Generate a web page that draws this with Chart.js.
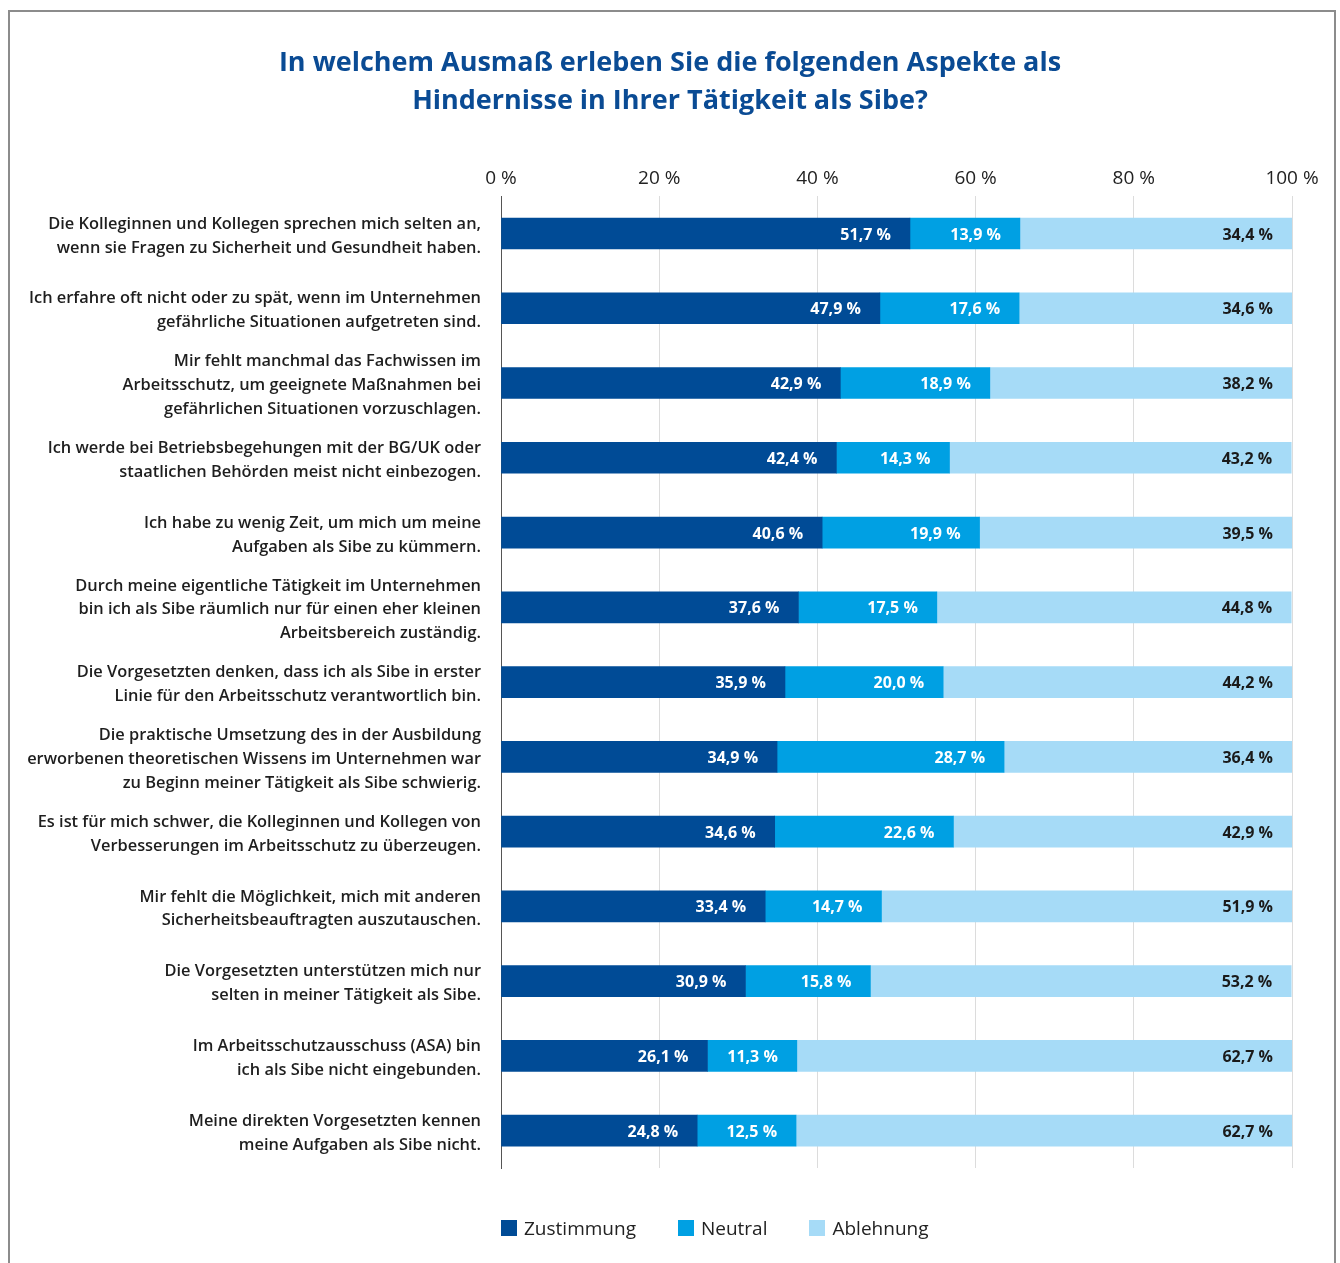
<!DOCTYPE html>
<html>
<head>
<meta charset="utf-8">
<script src="https://cdn.jsdelivr.net/npm/chart.js@4.4.1/dist/chart.umd.min.js"></script>
<style>
  html, body { margin: 0; padding: 0; background: #fff; }
  #wrap { position: relative; width: 1340px; height: 1263px; overflow: hidden; }
  canvas { position: absolute; left: 0; top: 0; }
  #legend { position: absolute; left: 501px; top: 1215px; display: flex; align-items: center;
            font-family: "Open Sans", sans-serif; font-size: 19px; color: #222; }
  #legend .item { display: flex; align-items: center; margin-right: 42px; }
  #legend .box { width: 16px; height: 16px; margin-right: 7px; }
</style>
</head>
<body>
<div id="wrap">
  <canvas id="c" width="1340" height="1263"></canvas>
  <div id="legend"></div>
</div>
<script>
const titleLines = [
  "In welchem Ausmaß erleben Sie die folgenden Aspekte als",
  "Hindernisse in Ihrer Tätigkeit als Sibe?"
];
const categories = [
  ["Die Kolleginnen und Kollegen sprechen mich selten an,", "wenn sie Fragen zu Sicherheit und Gesundheit haben."],
  ["Ich erfahre oft nicht oder zu spät, wenn im Unternehmen", "gefährliche Situationen aufgetreten sind."],
  ["Mir fehlt manchmal das Fachwissen im", "Arbeitsschutz, um geeignete Maßnahmen bei", "gefährlichen Situationen vorzuschlagen."],
  ["Ich werde bei Betriebsbegehungen mit der BG/UK oder", "staatlichen Behörden meist nicht einbezogen."],
  ["Ich habe zu wenig Zeit, um mich um meine", "Aufgaben als Sibe zu kümmern."],
  ["Durch meine eigentliche Tätigkeit im Unternehmen", "bin ich als Sibe räumlich nur für einen eher kleinen", "Arbeitsbereich zuständig."],
  ["Die Vorgesetzten denken, dass ich als Sibe in erster", "Linie für den Arbeitsschutz verantwortlich bin."],
  ["Die praktische Umsetzung des in der Ausbildung", "erworbenen theoretischen Wissens im Unternehmen war", "zu Beginn meiner Tätigkeit als Sibe schwierig."],
  ["Es ist für mich schwer, die Kolleginnen und Kollegen von", "Verbesserungen im Arbeitsschutz zu überzeugen."],
  ["Mir fehlt die Möglichkeit, mich mit anderen", "Sicherheitsbeauftragten auszutauschen."],
  ["Die Vorgesetzten unterstützen mich nur", "selten in meiner Tätigkeit als Sibe."],
  ["Im Arbeitsschutzausschuss (ASA) bin", "ich als Sibe nicht eingebunden."],
  ["Meine direkten Vorgesetzten kennen", "meine Aufgaben als Sibe nicht."]
];
const seriesNames = ["Zustimmung", "Neutral", "Ablehnung"];
const zustimmung = [51.7, 47.9, 42.9, 42.4, 40.6, 37.6, 35.9, 34.9, 34.6, 33.4, 30.9, 26.1, 24.8];
const neutral    = [13.9, 17.6, 18.9, 14.3, 19.9, 17.5, 20.0, 28.7, 22.6, 14.7, 15.8, 11.3, 12.5];
const ablehnung  = [34.4, 34.6, 38.2, 43.2, 39.5, 44.8, 44.2, 36.4, 42.9, 51.9, 53.2, 62.7, 62.7];
const tickValues = [0, 20, 40, 60, 80, 100];

const colors = ["#004b96", "#00a0e3", "#a6dbf7"];
const labelColors = ["#ffffff", "#ffffff", "#1a1a1a"];
const FONT = "'Open Sans', 'Noto Sans', sans-serif";

const fmt = v => v.toFixed(1).replace('.', ',') + ' %';

const framePlugin = {
  id: 'frame',
  beforeDraw(chart) {
    const ctx = chart.ctx;
    ctx.save();
    ctx.strokeStyle = '#8c8c8c';
    ctx.lineWidth = 2;
    ctx.strokeRect(9, 11, 1326, 1300);
    ctx.restore();
  }
};

const valueLabels = {
  id: 'valueLabels',
  afterDatasetsDraw(chart) {
    const ctx = chart.ctx;
    ctx.save();
    ctx.font = "bold 16px " + FONT;
    ctx.textAlign = 'right';
    ctx.textBaseline = 'middle';
    chart.data.datasets.forEach((ds, di) => {
      const meta = chart.getDatasetMeta(di);
      meta.data.forEach((el, i) => {
        const p = el.getProps(['x', 'y', 'base'], true);
        const end = Math.min(p.x, chart.chartArea.right);
        ctx.fillStyle = labelColors[di];
        ctx.fillText(fmt(ds.data[i]), end - 19, p.y + 1.5);
      });
    });
    ctx.restore();
  }
};

const chart = new Chart(document.getElementById('c'), {
  type: 'bar',
  data: {
    labels: categories,
    datasets: [
      { label: seriesNames[0], data: zustimmung, backgroundColor: colors[0] },
      { label: seriesNames[1], data: neutral, backgroundColor: colors[1] },
      { label: seriesNames[2], data: ablehnung, backgroundColor: colors[2] }
    ]
  },
  options: {
    indexAxis: 'y',
    responsive: false,
    animation: false,
    layout: { padding: { left: 0, right: 0, top: 0, bottom: 95 } },
    datasets: { bar: { barThickness: 31, borderWidth: 0 } },
    plugins: {
      legend: { display: false },
      tooltip: { enabled: false },
      title: {
        display: true,
        text: titleLines,
        color: '#0a4b94',
        font: { family: FONT, size: 27, weight: 'bold', lineHeight: 1.41 },
        padding: { top: 44, bottom: 36 }
      }
    },
    scales: {
      x: {
        position: 'top',
        stacked: true,
        min: 0, max: 100,
        afterBuildTicks(scale) { scale.ticks = tickValues.map(v => ({ value: v })); },
        afterFit(scale) { scale.height = 40; scale.paddingRight = 48; },
        ticks: {
          padding: 6,
          color: '#222',
          font: { family: FONT, size: 19 },
          callback: v => v + ' %'
        },
        grid: { color: '#dcdcdc', drawTicks: false, lineWidth: 1 },
        border: { display: false }
      },
      y: {
        stacked: true,
        afterFit(scale) { scale.width = 501; },
        ticks: {
          autoSkip: false,
          padding: 20,
          labelOffset: 2.5,
          color: '#1e1e1e',
          font: { family: FONT, size: 16.4, weight: '600', lineHeight: 1.46 }
        },
        grid: { display: false, drawTicks: false },
        border: { display: true, color: '#555', width: 1 }
      }
    }
  },
  plugins: [framePlugin, valueLabels]
});

const legendEl = document.getElementById('legend');
chart.data.datasets.forEach(ds => {
  const item = document.createElement('div');
  item.className = 'item';
  const box = document.createElement('span');
  box.className = 'box';
  box.style.background = ds.backgroundColor;
  const txt = document.createElement('span');
  txt.textContent = ds.label;
  item.appendChild(box);
  item.appendChild(txt);
  legendEl.appendChild(item);
});
</script>
</body>
</html>
